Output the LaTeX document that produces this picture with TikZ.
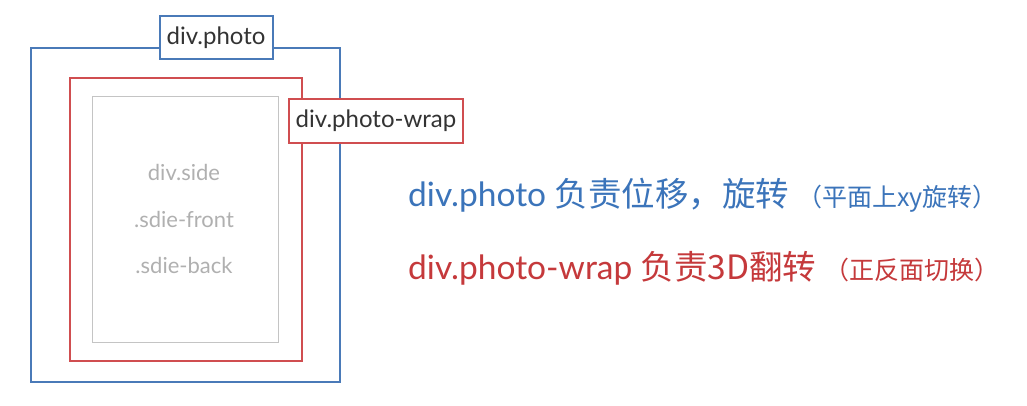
\documentclass[tikz,border=0pt]{standalone}
\usepackage{fontspec}
\setmainfont{Lato}
\newfontfamily\cjk{Noto Sans CJK SC}
\definecolor{bluebox}{HTML}{4A7AB8}
\definecolor{redbox}{HTML}{D04E50}
\definecolor{graybox}{HTML}{C4C4C4}
\definecolor{graytext}{HTML}{B0B0B0}
\definecolor{bluetext}{HTML}{3B74BA}
\definecolor{redtext}{HTML}{C5393B}
\definecolor{labeltext}{HTML}{333333}
\begin{document}
\begin{tikzpicture}[x=1pt,y=-1pt,
  frame/.style={draw=#1, line width=2pt, inner sep=0pt, anchor=north west},
  tag/.style={draw=#1, line width=2pt, fill=white, inner sep=0pt, text=labeltext, font=\fontsize{24}{28}\selectfont},
  sidetext/.style={text=graytext, font=\fontsize{22}{26}\selectfont}]
\useasboundingbox (0,0) rectangle (1027,405);
\fill[white] (0,0) rectangle (1027,405);
\node[frame=bluebox, minimum width=309pt, minimum height=334pt] (photo) at (30,47) {};
\node[frame=redbox, minimum width=232pt, minimum height=283pt] (wrap) at (69,77) {};
\node[frame=graybox, line width=1.4pt, minimum width=186pt, minimum height=246pt] (side) at (92,96) {};
\node[tag=bluebox, minimum width=113pt, minimum height=43pt] (photolbl) at (216,37.5) {div.photo};
\node[tag=redbox, minimum width=174pt, minimum height=44pt] (wraplbl) at (376,120.7) {div.photo-wrap};
\node[sidetext] (s1) at (184,172) {div.side};
\node[sidetext] (s2) at (184,219) {.sdie-front};
\node[sidetext] (s3) at (184,265) {.sdie-back};
\node[anchor=base west, inner sep=0pt, text=bluetext] (line1) at (408,206)
  {\fontsize{33.5}{38}\selectfont div.photo {\cjk 负责位移，旋转}\hspace{8pt}{\fontsize{25}{30}\selectfont\cjk （平面上xy旋转）}};
\node[anchor=base west, inner sep=0pt, text=redtext] (line2) at (408,279)
  {\fontsize{33.5}{38}\selectfont div.photo-wrap {\cjk 负责3D翻转}\hspace{8pt}{\fontsize{25}{30}\selectfont\cjk （正反面切换）}};
\end{tikzpicture}
\end{document}
